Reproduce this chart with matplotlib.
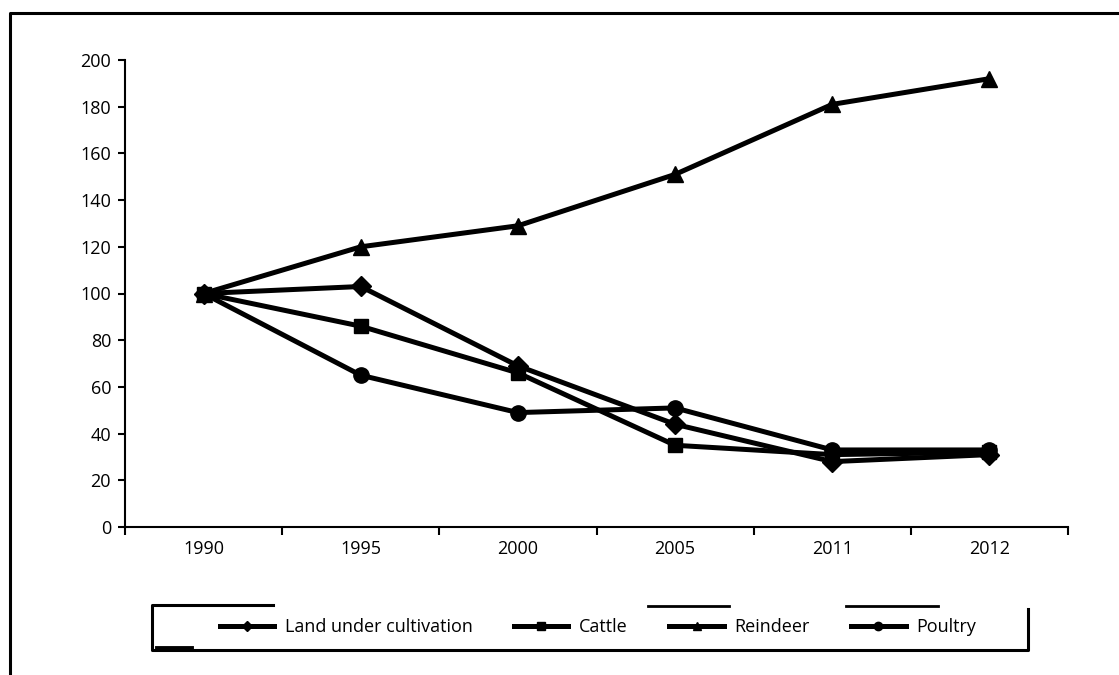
import matplotlib
matplotlib.use("Agg")
import matplotlib.pyplot as plt
from matplotlib.lines import Line2D

plt.rcParams['font.family'] = ['Open Sans', 'DejaVu Sans']

years = ["1990", "1995", "2000", "2005", "2011", "2012"]
land = [100, 103, 69, 44, 28, 31]
cattle = [100, 86, 66, 35, 31, 32]
reindeer = [100, 120, 129, 151, 181, 192]
poultry = [100, 65, 49, 51, 33, 33]
series_names = ["Land under cultivation", "Cattle", "Reindeer", "Poultry"]
yticks = list(range(0, 201, 20))

W, H = 1119, 675
fig = plt.figure(figsize=(W / 100, H / 100), dpi=100)

def fx(px):
    return px / W

def fy(py):
    return 1 - py / H

ax = fig.add_axes([fx(125), fy(527), fx(1068) - fx(125), fy(60) - fy(527)])

FS = 13
x = list(range(len(years)))
lw = 3.6
ms = 11
ax.plot(x, land, color='black', lw=lw, marker='D', ms=ms * 0.95, label=series_names[0])
ax.plot(x, cattle, color='black', lw=lw, marker='s', ms=ms * 0.9, label=series_names[1])
ax.plot(x, reindeer, color='black', lw=lw, marker='^', ms=ms * 1.05, label=series_names[2])
ax.plot(x, poultry, color='black', lw=lw, marker='o', ms=ms, label=series_names[3])

ax.set_xlim(-0.5, len(years) - 0.5)
ax.set_ylim(0, 200)
ax.set_yticks(yticks)
ax.set_yticklabels([str(v) for v in yticks], fontsize=FS)
ax.set_xticks([i - 0.5 for i in range(len(years) + 1)])
ax.set_xticklabels([])
ax.set_xticks(x, minor=True)
ax.set_xticklabels(years, minor=True, fontsize=FS)
ax.tick_params(axis='x', which='minor', length=0, pad=9)
ax.tick_params(axis='x', which='major', length=6, width=1.5, direction='out')
ax.tick_params(axis='y', length=5, width=1.5, direction='out', pad=5)
for s in ['top', 'right']:
    ax.spines[s].set_visible(False)
for s in ['left', 'bottom']:
    ax.spines[s].set_linewidth(1.5)

# legend
handles = [Line2D([0], [0], color='black', lw=lw, marker=m, ms=ms_)
           for m, ms_ in zip(['D', 's', '^', 'o'], [5, 6, 6, 6])]
fig.legend(handles, series_names, loc='center', bbox_to_anchor=(fx(598), fy(627)),
           ncol=4, frameon=False, fontsize=FS, handlelength=3.0,
           columnspacing=2.3, handletextpad=0.6)

def fline(xs, ys, lw_):
    fig.add_artist(Line2D([fx(v) for v in xs], [fy(v) for v in ys],
                          color='black', lw=lw_, transform=fig.transFigure,
                          solid_capstyle='projecting'))

# figure border (left and top)
fline([10, 10, 1119], [675, 13, 13], 2.2)
# legend frame pieces
fline([273, 152, 152, 1028, 1028], [605, 605, 650, 650, 609], 2.2)
fline([157, 191], [648, 648], 3.5)
fline([648, 729], [606, 606], 2.0)
fline([846, 938], [606, 606], 2.0)

fig.savefig("out.png", dpi=100)
